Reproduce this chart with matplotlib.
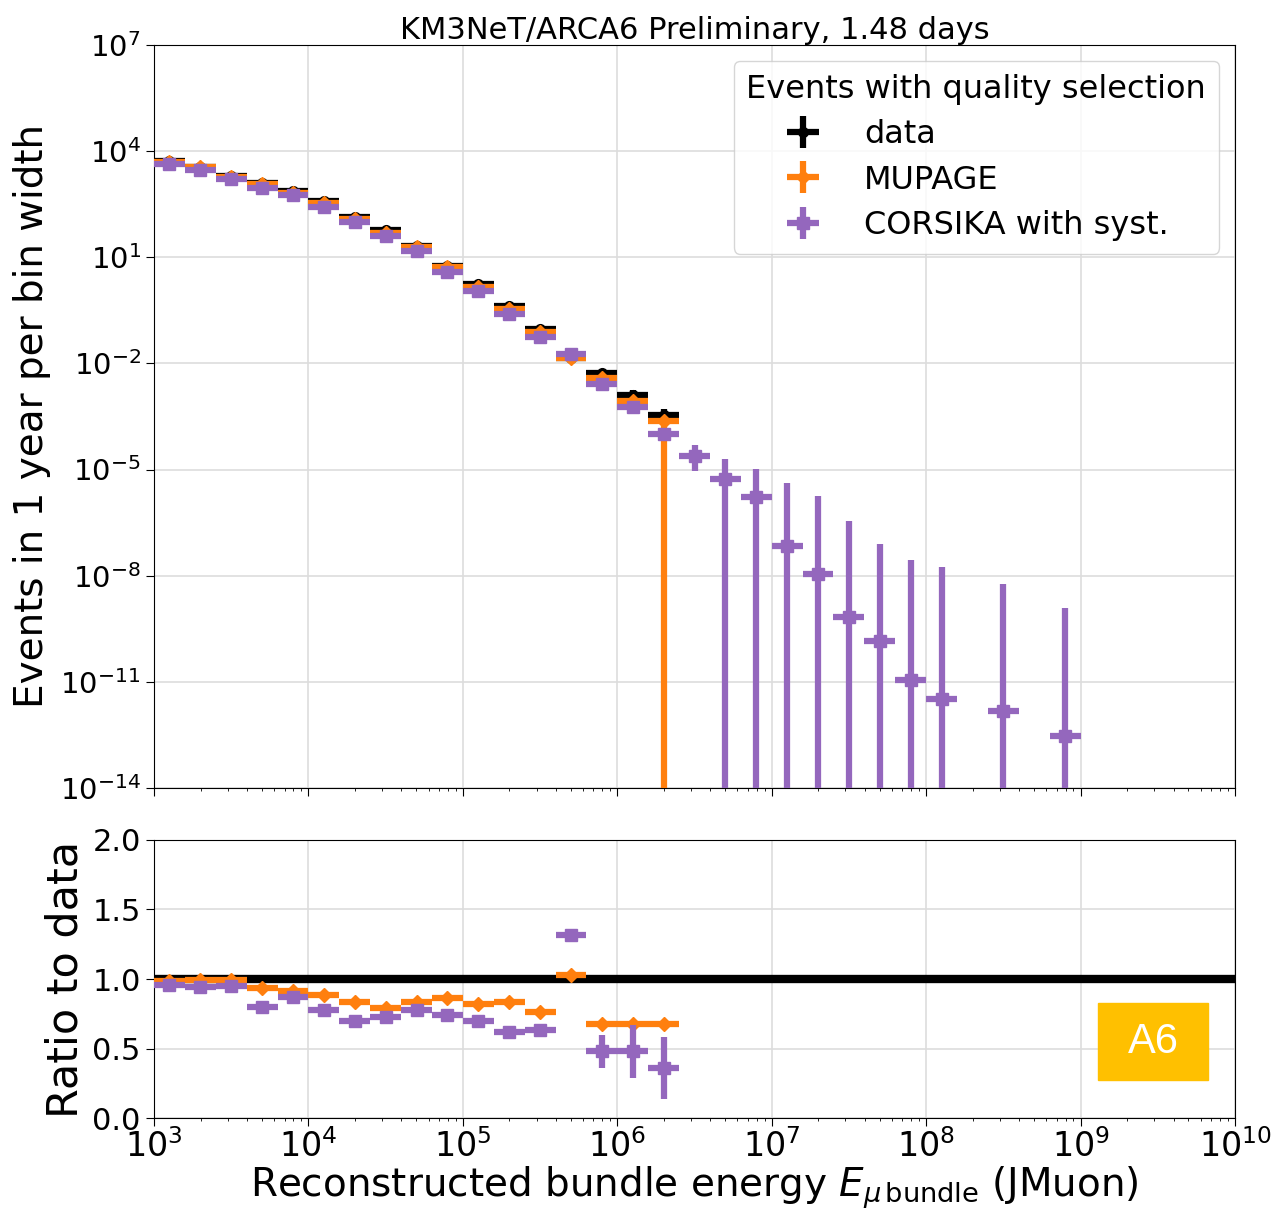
import numpy as np
import matplotlib
matplotlib.use('Agg')
import matplotlib.pyplot as plt
from matplotlib.patches import Rectangle

# Биннинг: 5 бинов на декаду, от 10^3
edges = np.logspace(3, 9, 31)
centers = np.sqrt(edges[:-1] * edges[1:])

# Данные (верхняя панель), события за 1 год на ширину бина
data_vals = [5130, 3630, 1950, 1280, 738, 385, 136, 59.6, 21.4, 5.82, 1.77,
             0.430, 0.094, 0.0138, 0.00535, 0.0013, 0.00035]
data_relerr = [0.01, 0.01, 0.01, 0.02, 0.02, 0.03, 0.04, 0.05, 0.06, 0.08, 0.1,
               0.12, 0.15, 0.2, 0.25, 0.35, 0.45]

mupage_vals = [5010, 3550, 1920, 1190, 675, 347, 122, 49.0, 19.2, 5.21, 1.42,
               0.346, 0.0753, 0.0141, 0.00385, 0.00088, 0.000239]

corsika_vals = [4210, 2840, 1660, 920, 594, 272, 97.7, 39.3, 15.5, 3.94, 1.09,
                0.250, 0.0543, 0.0184, 0.00261, 0.000605, 0.0001,
                2.44e-5, 5.56e-6, 1.72e-6, 6.9e-8, 1.15e-8, 6.9e-10, 1.41e-10,
                1.1e-11, 3.2e-12, np.nan, 1.48e-12, np.nan, 2.9e-13]
corsika_upper = [4400, 2970, 1740, 965, 622, 285, 102, 41.2, 16.3, 4.15, 1.15,
                 0.265, 0.058, 0.0196, 0.0029, 0.00069, 0.000125,
                 5.0e-5, 2.05e-5, 1.02e-5, 4.3e-6, 1.8e-6, 3.5e-7, 7.8e-8,
                 2.7e-8, 1.76e-8, np.nan, 5.7e-9, np.nan, 1.23e-9]
corsika_lower = [4020, 2710, 1580, 877, 566, 259, 93.2, 37.4, 14.7, 3.74, 1.03,
                 0.236, 0.051, 0.0172, 0.0023, 0.00052, 0.00008,
                 9.1e-6, 0, 0, 0, 0, 0, 0, 0, 0, np.nan, 0, np.nan, 0]

# Отношения к данным (нижняя панель)
mupage_ratio = [0.985, 0.99, 0.99, 0.935, 0.915, 0.885, 0.835, 0.79, 0.835, 0.86,
                0.82, 0.835, 0.76, 1.03, 0.68, 0.68, 0.68]
corsika_ratio = [0.96, 0.94, 0.95, 0.80, 0.87, 0.78, 0.70, 0.73, 0.78, 0.74,
                 0.70, 0.62, 0.63, 1.32, 0.48, 0.48, 0.36]
corsika_ratio_err = [0.01, 0.01, 0.01, 0.01, 0.015, 0.015, 0.015, 0.02, 0.02, 0.02,
                     0.02, 0.02, 0.05, 0.02, 0.12, 0.19, 0.22]

C_DATA = 'black'
C_MUP = '#ff7f0e'
C_COR = '#9467bd'

n_d = len(data_vals)
xerr_all = np.array([centers - edges[:-1], edges[1:] - centers])
xerr_d = xerr_all[:, :n_d]

fig = plt.figure(figsize=(12.72, 12.10), dpi=100)
ax = fig.add_axes([0.1211, 0.3488, 0.8498, 0.6140])
axr = fig.add_axes([0.1211, 0.0760, 0.8498, 0.2298], sharex=ax)

d = np.array(data_vals)
m = np.array(mupage_vals)
c = np.array(corsika_vals)

# Верхняя панель
h_d = ax.errorbar(centers[:n_d], d, xerr=xerr_d, yerr=d * np.array(data_relerr),
                  fmt='o', color=C_DATA, ms=7, elinewidth=4.5, zorder=3)
m_lo = m * 0.04
m_lo[-1] = m[-1]  # последний бин: ошибка вниз до нуля
h_m = ax.errorbar(centers[:n_d], m, xerr=xerr_d, yerr=[m_lo, m * 0.04],
                  fmt='D', color=C_MUP, ms=7, elinewidth=4.5, zorder=4)
c_lo = c - np.array(corsika_lower)
c_hi = np.array(corsika_upper) - c
h_c = ax.errorbar(centers, c, xerr=xerr_all, yerr=[c_lo, c_hi],
                  fmt='s', color=C_COR, ms=8, elinewidth=4.5, zorder=5)

ax.set_xscale('log')
ax.set_yscale('log')
ax.set_xlim(1e3, 1e10)
ax.set_ylim(1e-14, 1e7)
ax.set_yticks([10.0 ** k for k in range(-14, 8, 3)])
ax.yaxis.set_minor_locator(matplotlib.ticker.NullLocator())
ax.grid(True, which='major', color='#dddddd', linewidth=1.2)
ax.set_axisbelow(True)
ax.tick_params(axis='y', labelsize=21, length=6)
ax.tick_params(axis='x', labelbottom=False, length=6)
ax.set_ylabel('Events in 1 year per bin width', fontsize=28, labelpad=6)
ax.set_title('KM3NeT/ARCA6 Preliminary, 1.48 days', fontsize=22, pad=3)

leg = ax.legend([h_d, h_m, h_c], ['data', 'MUPAGE', 'CORSIKA with syst.'],
                title='Events with quality selection', loc='upper right',
                fontsize=23, title_fontsize=23, handlelength=1.2,
                handletextpad=1.3, borderpad=0.4, labelspacing=0.45,
                borderaxespad=0.5)

# Нижняя панель
axr.axhline(1.0, color=C_DATA, linewidth=6, zorder=3)
axr.errorbar(centers[:n_d], mupage_ratio, xerr=xerr_d, yerr=0.01,
             fmt='D', color=C_MUP, ms=7, elinewidth=4.5, zorder=4)
axr.errorbar(centers[:n_d], corsika_ratio, xerr=xerr_d, yerr=corsika_ratio_err,
             fmt='s', color=C_COR, ms=8, elinewidth=4.5, zorder=5)
axr.set_ylim(0, 2)
axr.set_yticks([0, 0.5, 1.0, 1.5, 2.0])
axr.grid(True, which='major', color='#dddddd', linewidth=1.2)
axr.set_axisbelow(True)
axr.tick_params(axis='y', labelsize=22, length=6)
axr.tick_params(axis='x', labelsize=24, length=6, pad=2)
axr.set_ylabel('Ratio to data', fontsize=31, labelpad=4)
axr.set_xlabel(r'Reconstructed bundle energy $E_{\mu\,\mathrm{bundle}}$ (JMuon)',
               fontsize=28, labelpad=0)

# Метка A6
fig.patches.append(Rectangle((1098 / 1272, 1 - 1080 / 1210), 110 / 1272, 77 / 1210,
                             transform=fig.transFigure, color='#ffc000', zorder=10))
fig.text(1153 / 1272, 1 - 1042 / 1210, 'A6', color='white', fontsize=30,
         family='Liberation Sans', ha='center', va='center', zorder=11)

plt.savefig('out.png', dpi=100)
